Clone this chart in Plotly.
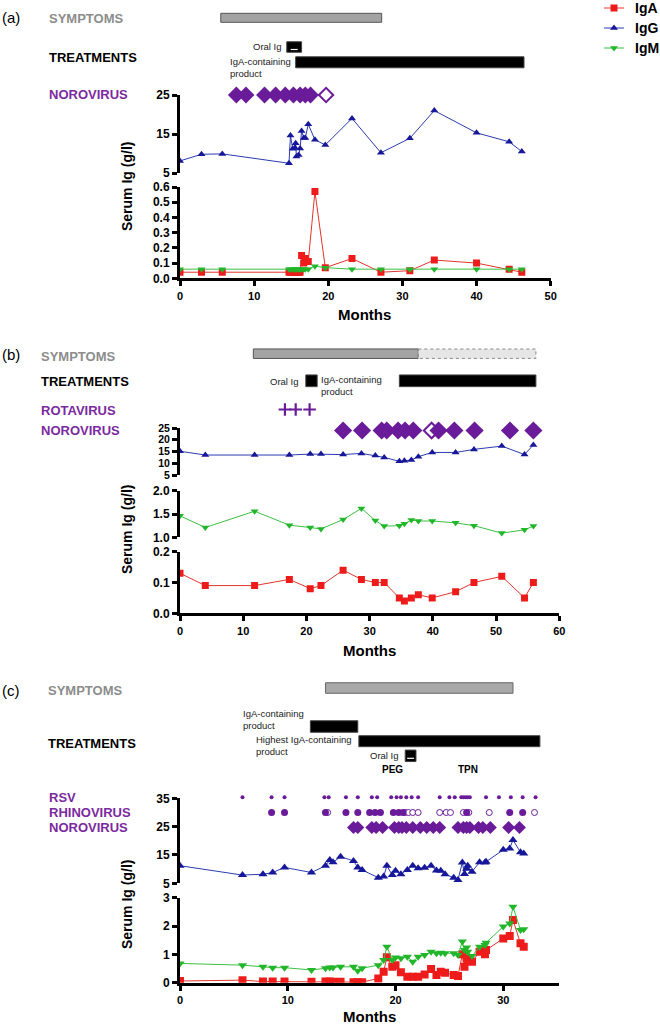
import plotly.graph_objects as go

# ---------------- data ----------------
# Panel (a)
A_MONTHS = [0, 2.9, 5.7, 14.7, 14.9, 15.2, 15.5, 15.6, 15.7, 16.0, 16.2, 16.4, 16.7, 16.9, 17.3, 18.2, 19.6, 23.2, 27.1, 31.0, 34.3, 40.0, 44.4, 46.1]
A_IGG = [8.1, 9.8, 9.9, 7.5, 14.6, 11.2, 11.5, 12.6, 9.2, 9.6, 11.3, 15.8, 14.0, 14.0, 17.5, 13.5, 12.2, 19.0, 10.2, 13.9, 21.0, 15.3, 13.0, 10.5]
A_IGA = [0.04, 0.04, 0.04, 0.04, 0.04, 0.04, 0.04, 0.04, 0.04, 0.04, 0.04, 0.15, 0.10, 0.13, 0.11, 0.57, 0.07, 0.13, 0.04, 0.05, 0.12, 0.10, 0.06, 0.04]
A_IGM = [0.06, 0.06, 0.06, 0.06, 0.06, 0.06, 0.06, 0.06, 0.06, 0.06, 0.06, 0.06, 0.06, 0.06, 0.06, 0.08, 0.07, 0.06, 0.06, 0.06, 0.06, 0.06, 0.06, 0.06]
A_NORO = [7.6, 8.9, 11.4, 12.9, 14.2, 15.3, 16.2, 16.9, 17.6]
A_NORO_OPEN = [19.7]
A_SYMPTOMS = [5.5, 27.2]
A_ORAL_IG = [14.4, 16.4]
A_IGA_PRODUCT = [15.6, 46.4]

# Panel (b)
B_MONTHS = [0, 4.0, 11.8, 17.3, 20.6, 22.3, 25.8, 28.7, 30.9, 32.3, 34.7, 35.5, 36.6, 37.7, 39.9, 43.6, 46.5, 50.9, 54.5, 55.9]
B_IGG = [15.1, 13.5, 13.5, 13.5, 13.9, 13.9, 13.7, 14.2, 13.3, 12.5, 10.8, 11.1, 11.4, 12.8, 14.6, 14.6, 15.9, 17.3, 13.7, 17.8]
B_IGM = [1.46, 1.21, 1.56, 1.26, 1.21, 1.18, 1.38, 1.62, 1.36, 1.24, 1.25, 1.29, 1.37, 1.35, 1.35, 1.31, 1.25, 1.09, 1.16, 1.24]
B_IGA = [0.13, 0.09, 0.09, 0.11, 0.08, 0.09, 0.14, 0.11, 0.10, 0.10, 0.05, 0.04, 0.05, 0.06, 0.05, 0.07, 0.10, 0.12, 0.05, 0.10]
B_ROTA = [16.6, 18.3, 20.5]
B_NORO = [25.8, 28.8, 31.9, 32.7, 34.5, 35.6, 36.9, 40.9, 43.4, 46.6, 52.2, 55.9]
B_NORO_OPEN = [39.8]
B_SYMPTOMS = [11.6, 37.7]
B_SYMPTOMS_LATER = [37.7, 56.3]
B_ORAL_IG = [19.9, 21.7]
B_IGA_PRODUCT = [34.7, 56.3]

# Panel (c)
C_MONTHS = [0, 5.8, 7.7, 8.6, 9.7, 12.2, 13.5, 13.9, 14.2, 14.9, 16.1, 16.5, 16.9, 18.4, 18.9, 19.2, 19.7, 20.0, 20.5, 21.1,
            21.6, 22.1, 22.7, 23.3, 23.8, 24.2, 24.6, 25.4, 25.8, 26.2, 26.4, 26.6, 26.7, 27.1, 27.8, 28.3, 28.4, 30.0, 30.6, 30.9,
            31.6, 31.9]
C_IGG = [11.2, 7.9, 8.2, 8.8, 10.6, 8.8, 11.2, 13.2, 12.4, 14.4, 12.9, 10.6, 9.7, 7.0, 7.4, 11.2, 7.9, 9.4, 8.2, 9.7,
         11.2, 10.3, 10.5, 11.2, 9.5, 9.4, 8.2, 7.0, 6.2, 12.3, 8.3, 10.1, 11.2, 9.1, 12.4, 12.3, 12.6, 16.8, 17.3, 20.3,
         16.0, 15.5]
C_IGM = [0.68, 0.62, 0.56, 0.53, 0.53, 0.45, 0.51, 0.54, 0.54, 0.56, 0.56, 0.42, 0.51, 0.62, 0.80, 1.27, 0.80, 0.89, 0.86, 0.92,
         0.74, 0.92, 0.98, 1.09, 1.04, 1.06, 1.04, 1.04, 0.98, 1.45, 1.15, 1.24, 1.09, 0.94, 1.27, 1.33, 1.41, 1.98, 2.09, 2.68,
         1.86, 1.89]
C_IGA = [0.06, 0.09, 0.04, 0.04, 0.04, 0.03, 0.04, 0.04, 0.03, 0.03, 0.02, 0.02, 0.02, 0.15, 0.39, 0.90, 0.56, 0.62, 0.37, 0.21,
         0.21, 0.21, 0.29, 0.48, 0.27, 0.39, 0.35, 0.27, 0.24, 1.00, 0.56, 0.86, 0.80, 0.74, 1.09, 1.00, 1.15, 1.56, 1.65, 2.21,
         1.39, 1.27]
C_RSV = [5.8, 8.5, 9.7, 13.4, 13.8, 15.4, 16.5, 17.8, 18.3, 19.6, 20.1, 20.5, 21.0, 21.5, 22.1, 24.1, 25.0, 25.5,
         26.1, 26.3, 26.5, 26.7, 26.9, 28.4, 29.6, 30.7, 31.8, 33.0]
C_RHINO = [8.5, 9.7, 13.5, 15.4, 16.5, 17.6, 18.1, 18.6, 19.8, 20.3, 20.7, 26.6, 30.6, 31.8]
C_RHINO_OPEN = [13.7, 20.9, 21.2, 21.6, 22.1, 24.1, 24.7, 25.1, 26.3, 26.8, 28.7, 32.9]
C_NORO = [16.1, 16.5, 17.8, 18.2, 18.8, 19.9, 20.3, 20.6, 21.0, 21.6, 22.3, 22.9, 23.5, 24.1, 25.8, 26.3, 26.6, 26.9,
          27.7, 28.1, 28.8, 30.5, 31.5]
C_SYMPTOMS = [13.5, 30.9]
C_IGA_PRODUCT = [12.1, 16.5]
C_HIGHEST_IGA = [16.6, 33.4]
C_ORAL_IG = [20.9, 21.9]
C_PEG = 19.7
C_TPN = 26.7

SERIES = ['IgA', 'IgG', 'IgM']

# ---------------- styling / layout helpers ----------------
W, H = 660, 1025
FONT = "Liberation Sans, Arial, sans-serif"
STYLE = {
    'IgA': dict(line='#e2342c', marker='#ee1b1b', symbol='square'),
    'IgG': dict(line='#2b3cb0', marker='#17179a', symbol='triangle-up'),
    'IgM': dict(line='#3cc043', marker='#22b62a', symbol='triangle-down'),
}
PURPLE = '#6a1b9a'
PURPLE_T = '#7b2aa0'


def PX(p):
    return p / W


def PY(p):
    return 1 - p / H


fig = go.Figure()

ax_common = dict(showline=True, linecolor='black', linewidth=3, ticks='outside', ticklen=5,
                 tickwidth=2.5, tickcolor='black', showgrid=False, zeroline=False, automargin=False)


def yax(top, bottom, rng, tickvals, fmt=None, anchor='x', fsize=12):
    d = dict(ax_common, domain=[PY(bottom), PY(top)], range=rng, tickvals=tickvals, anchor=anchor,
             tickfont=dict(family=FONT, size=fsize, color='black', weight='bold'))
    if fmt:
        d['tickformat'] = fmt
    return d


def right_line(top, bottom, anchor):
    return dict(domain=[PY(bottom), PY(top)], anchor=anchor, side='right', showline=True, linecolor='black',
                linewidth=3, ticks='', showticklabels=False, showgrid=False, zeroline=False, range=[0, 1],
                automargin=False)


def xax(x0, x1, rng, tickvals, anchor):
    return dict(ax_common, domain=[PX(x0), PX(x1)], range=rng, tickvals=tickvals, anchor=anchor,
                tickfont=dict(family=FONT, size=11, color='black', weight='bold'))


layout = dict(
    template='none',
    width=W, height=H, margin=dict(l=0, r=0, t=0, b=0, pad=0, autoexpand=False), autosize=False,
    paper_bgcolor='white', plot_bgcolor='rgba(0,0,0,0)', barmode='overlay',
    font=dict(family=FONT, color='black'), showlegend=False, hovermode=False,
    # panel a
    xaxis=xax(180, 550.7, [0, 50], [0, 10, 20, 30, 40, 50], 'y2'),
    yaxis=yax(95, 173, [5, 25], [5, 15, 25]),
    yaxis2=yax(187, 278.3, [0, 0.6], [0, 0.1, 0.2, 0.3, 0.4, 0.5, 0.6], '.1f'),
    yaxis3=right_line(94, 278.3, 'x'),
    # panel b
    xaxis2=xax(180, 559.3, [0, 60], [0, 10, 20, 30, 40, 50, 60], 'y6'),
    yaxis4=yax(428, 475, [5, 25], [5, 10, 15, 20, 25], anchor='x2', fsize=10.5),
    yaxis5=yax(490.7, 537.3, [1, 2], [1, 1.5, 2], '.1f', anchor='x2'),
    yaxis6=yax(551.7, 613.3, [0, 0.2], [0, 0.1, 0.2], '.1f', anchor='x2'),
    yaxis7=right_line(429, 613.3, 'x2'),
    # panel c
    xaxis3=xax(180, 559.3, [0, 35.2], [0, 10, 20, 30], 'y9'),
    yaxis8=yax(798.3, 883.3, [5, 35], [5, 15, 25, 35], anchor='x3'),
    yaxis9=yax(897.7, 982.7, [0, 3], [0, 1, 2, 3], anchor='x3'),
    yaxis10=right_line(797, 982.7, 'x3'),
    # overlay axes measured in page pixels, used for timeline rows and the legend key
    yaxis11=dict(domain=[0, 1], range=[H, 0], visible=False, anchor='x', showgrid=False, zeroline=False,
                 automargin=False),
    xaxis4=dict(domain=[0, 1], range=[0, W], visible=False, anchor='y11', showgrid=False, zeroline=False,
                automargin=False),
)


def add_series(xa, yaxes, months, values, msize=7):
    for name in SERIES:
        st = STYLE[name]
        fig.add_trace(go.Scatter(x=months, y=values[name], xaxis=xa, yaxis=yaxes[name], mode='lines+markers',
                                 name=name, line=dict(color=st['line'], width=1),
                                 marker=dict(symbol=st['symbol'], size=msize, color=st['marker'])))


add_series('x', {'IgA': 'y2', 'IgG': 'y', 'IgM': 'y2'}, A_MONTHS, {'IgA': A_IGA, 'IgG': A_IGG, 'IgM': A_IGM})
add_series('x2', {'IgA': 'y6', 'IgG': 'y4', 'IgM': 'y5'}, B_MONTHS, {'IgA': B_IGA, 'IgG': B_IGG, 'IgM': B_IGM})
add_series('x3', {'IgA': 'y9', 'IgG': 'y8', 'IgM': 'y9'}, C_MONTHS, {'IgA': C_IGA, 'IgG': C_IGG, 'IgM': C_IGM},
           msize=8)


def add_bar(xa, span, row_y, height, fill, edge='#444', ew=1):
    fig.add_trace(go.Bar(orientation='h', base=[span[0]], x=[span[1] - span[0]], y=[row_y], width=[height],
                         xaxis=xa, yaxis='y11', marker=dict(color=fill, line=dict(color=edge, width=ew)),
                         hoverinfo='skip'))


def add_tick_mark(xa, span, row_y):
    # small white dash drawn inside the oral Ig block
    fig.add_trace(go.Scatter(x=[(span[0] + span[1]) / 2], y=[row_y + 2.5], xaxis=xa, yaxis='y11', mode='markers',
                             marker=dict(symbol='line-ew', size=5, line=dict(color='white', width=1.2)),
                             hoverinfo='skip'))


def add_marks(xa, months, row_y, symbol, size, lw=0, hollow=False):
    mk = dict(symbol=symbol, size=size, color='white' if hollow else PURPLE, line=dict(color=PURPLE, width=lw))
    fig.add_trace(go.Scatter(x=months, y=[row_y] * len(months), xaxis=xa, yaxis='y11', mode='markers', marker=mk,
                             hoverinfo='skip', cliponaxis=False))


# panel a timeline
add_bar('x', A_SYMPTOMS, 17.8, 9, '#a3a3a3', '#555', 1)
add_bar('x', A_ORAL_IG, 47, 10.5, 'black')
add_tick_mark('x', A_ORAL_IG, 47)
add_bar('x', A_IGA_PRODUCT, 62.3, 11, 'black')
add_marks('x', A_NORO_OPEN, 95, 'diamond', 11, lw=2, hollow=True)
add_marks('x', A_NORO, 95, 'diamond', 13)

# panel b timeline
add_bar('x2', B_SYMPTOMS, 353.7, 9.5, '#a3a3a3', '#555', 1)
fig.add_trace(go.Scatter(
    x=[B_SYMPTOMS_LATER[0], B_SYMPTOMS_LATER[1], B_SYMPTOMS_LATER[1], B_SYMPTOMS_LATER[0], B_SYMPTOMS_LATER[0]],
    y=[349, 349, 358.4, 358.4, 349], xaxis='x2', yaxis='y11', mode='lines', fill='toself', fillcolor='#e6e6e6',
    line=dict(color='#888', width=1, dash='dot'), hoverinfo='skip'))
add_bar('x2', B_ORAL_IG, 380.8, 11.7, 'black')
add_bar('x2', B_IGA_PRODUCT, 380.8, 11.7, 'black')
add_marks('x2', B_ROTA, 409.5, 'cross-thin', 9, lw=2.2)
add_marks('x2', B_NORO_OPEN, 430.5, 'diamond', 12, lw=2, hollow=True)
add_marks('x2', B_NORO, 430.5, 'diamond', 14)

# panel c timeline
add_bar('x3', C_SYMPTOMS, 688, 10.5, '#a8a8a8', '#666', 1)
add_bar('x3', C_IGA_PRODUCT, 726.5, 11.5, 'black')
add_bar('x3', C_HIGHEST_IGA, 741.2, 11, 'black')
add_bar('x3', C_ORAL_IG, 755.8, 11.5, 'black')
add_tick_mark('x3', C_ORAL_IG, 755.8)
add_marks('x3', C_RSV, 797.3, 'circle', 4)
add_marks('x3', C_RHINO_OPEN, 812.5, 'circle', 6, lw=1, hollow=True)
add_marks('x3', C_RHINO, 812.5, 'circle', 7)
add_marks('x3', C_NORO, 827.5, 'diamond', 10)

# ---------------- legend key (drawn in page-pixel overlay axes) ----------------
LEG_X0, LEG_X1, LEG_TEXT_X = 604, 624, 633
LEG_ROWS = {'IgA': 8, 'IgG': 28, 'IgM': 48}
for name in SERIES:
    st = STYLE[name]
    ly = LEG_ROWS[name]
    fig.add_trace(go.Scatter(x=[LEG_X0, LEG_X1], y=[ly, ly], xaxis='x4', yaxis='y11', mode='lines',
                             line=dict(color=st['line'], width=1), hoverinfo='skip', cliponaxis=False))
    fig.add_trace(go.Scatter(x=[(LEG_X0 + LEG_X1) / 2], y=[ly], xaxis='x4', yaxis='y11', mode='markers',
                             marker=dict(symbol=st['symbol'], size=7, color=st['marker']), hoverinfo='skip',
                             cliponaxis=False))

# ---------------- text ----------------
ann = []


def text(t, x, y, size=13, color='black', bold=True, xanchor='left', xref='paper', xshift=0, align='left',
         angle=0):
    ann.append(dict(text=t, x=x, y=y, xref=xref, yref='paper', xanchor=xanchor, yanchor='middle', showarrow=False,
                    xshift=xshift, align=align, textangle=angle,
                    font=dict(family=FONT, size=size, color=color, weight='bold' if bold else 'normal')))


small = dict(size=9.5, color='#222', bold=False, xanchor='right', align='left')

for name in SERIES:
    text(name, PX(LEG_TEXT_X), PY(LEG_ROWS[name]), size=14)

# panel a
text('(a)', PX(0), PY(17), size=15, bold=False)
text('SYMPTOMS', PX(47), PY(18), color='#8c8c8c')
text('TREATMENTS', PX(47), PY(57))
text('NOROVIRUS', PX(47), PY(95), color=PURPLE_T)
text('Oral Ig', A_ORAL_IG[0], PY(46), xref='x', xshift=-3, **small)
text('IgA-containing<br>product', A_IGA_PRODUCT[0], PY(67.5), xref='x', xshift=-3, **small)
text('Serum Ig (g/l)', PX(127), PY(187), size=14, xanchor='center', angle=-90)
text('Months', PX(365), PY(314), size=15, xanchor='center')

# panel b
text('(b)', PX(0), PY(354), size=15, bold=False)
text('SYMPTOMS', PX(39), PY(356), color='#8c8c8c')
text('TREATMENTS', PX(39), PY(381.7))
text('ROTAVIRUS', PX(39), PY(410), color=PURPLE_T)
text('NOROVIRUS', PX(39), PY(430.7), color=PURPLE_T)
text('Oral Ig', B_ORAL_IG[0], PY(381), xref='x2', xshift=-5, **small)
text('IgA-containing<br>product', B_IGA_PRODUCT[0], PY(385), xref='x2', xshift=-15, **small)
text('Serum Ig (g/l)', PX(127), PY(530), size=14, xanchor='center', angle=-90)
text('Months', PX(370), PY(650), size=15, xanchor='center')

# panel c
text('(c)', PX(0), PY(690), size=15, bold=False)
text('SYMPTOMS', PX(46), PY(690), color='#8c8c8c')
text('TREATMENTS', PX(46), PY(743.3))
text('IgA-containing<br>product', C_IGA_PRODUCT[0], PY(719.5), xref='x3', xshift=-4, **small)
text('Highest IgA-containing<br>product', C_HIGHEST_IGA[0], PY(745.5), xref='x3', xshift=-5, **small)
text('Oral Ig', C_ORAL_IG[0], PY(755.5), xref='x3', xshift=-4, **small)
text('PEG', C_PEG, PY(769.3), xref='x3', size=10, xanchor='center')
text('TPN', C_TPN, PY(769.3), xref='x3', size=10, xanchor='center')
text('RSV', PX(47), PY(797.3), color=PURPLE_T)
text('RHINOVIRUS', PX(47), PY(812.3), color=PURPLE_T)
text('NOROVIRUS', PX(47), PY(827.3), color=PURPLE_T)
text('Serum Ig (g/l)', PX(127), PY(905), size=14, xanchor='center', angle=-90)
text('Months', PX(370), PY(1016), size=15, xanchor='center')

layout['annotations'] = ann
fig.update_layout(**layout)

# remove the browser's default page margin so the 660x1025 figure fills the window exactly
fig.write_html("out.html", config={'displayModeBar': False},
               post_script="document.documentElement.style.margin='0';document.body.style.margin='0';"
                           "document.body.style.overflow='hidden';")
